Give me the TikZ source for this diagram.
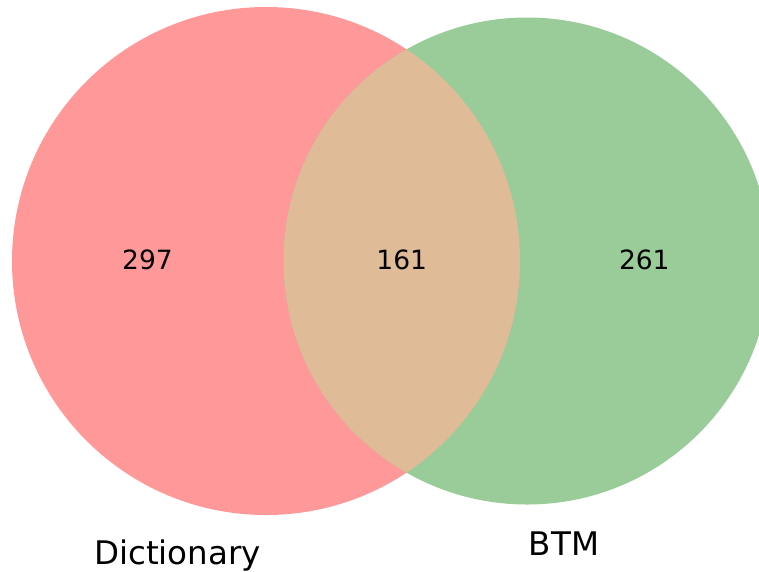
\documentclass[tikz,border=0pt]{standalone}
\usepackage{fontspec}
\setmainfont{DejaVu Sans}
\definecolor{dictred}{HTML}{FF9999}
\definecolor{btmgreen}{HTML}{99CC99}
\definecolor{bothtan}{HTML}{DFBB97}
\begin{document}
\begin{tikzpicture}[x=1pt,y=-1pt]
    \tikzstyle{every node}+=[inner sep=0pt]
    \tikzstyle{count}=[anchor=base, font=\fontsize{26.5}{30}\selectfont]
    \tikzstyle{setname}=[anchor=base, font=\fontsize{32.5}{36}\selectfont]
    \useasboundingbox (0,0) rectangle (759,571);
    \clip (0,0) rectangle (759,571);
    \fill [dictred] (266,261) circle (254pt);
    \fill [btmgreen] (527,261) circle (243.5pt);
    \begin{scope}
    \clip (266,261) circle (254pt);
    \fill [bothtan] (527,261) circle (243.5pt);
    \end{scope}
    \node [count] (onlydict) at (147.5,269.3) {297};
    \node [count] (both) at (401.7,269.3) {161};
    \node [count] (onlybtm) at (644.3,269.3) {261};
    \node [setname] (dict) at (177.5,564) {Dictionary};
    \node [setname] (btm) at (564,555.7) {BTM};
\end{tikzpicture}
\end{document}
